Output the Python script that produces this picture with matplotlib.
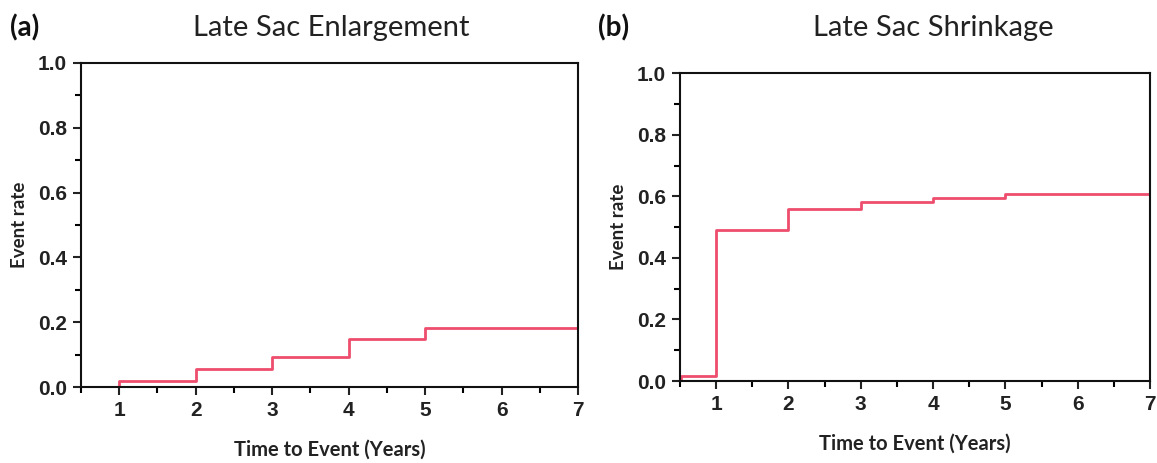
import matplotlib
matplotlib.use('Agg')
import matplotlib.pyplot as plt
from matplotlib.ticker import MultipleLocator

# Late sac enlargement (a)
enl_time = [1, 2, 3, 4, 5, 7]
enl_rate = [0.02, 0.056, 0.093, 0.148, 0.181, 0.181]

# Late sac shrinkage (b)
shr_time = [0.52, 1, 2, 3, 4, 5, 7]
shr_rate = [0.017, 0.49, 0.559, 0.581, 0.594, 0.607, 0.607]

panels = [
    ('(a)', 'Late Sac Enlargement', enl_time, enl_rate),
    ('(b)', 'Late Sac Shrinkage', shr_time, shr_rate),
]
x_ticks = [1, 2, 3, 4, 5, 6, 7]
y_ticks = [0.0, 0.2, 0.4, 0.6, 0.8, 1.0]

line_color = '#ee4d6e'
tick_font = ['Liberation Sans Narrow', 'Liberation Sans', 'DejaVu Sans']
text_font = ['Lato', 'DejaVu Sans']

fig = plt.figure(figsize=(11.57, 4.63), dpi=100)
rects = [[0.070, 0.164, 0.4296, 0.700],
         [0.5877, 0.177, 0.4063, 0.665]]
title_x = [0.286, 0.807]
tag_x = [0.009, 0.517]

for i, (rect, (tag, title, t, r)) in enumerate(zip(rects, panels)):
    ax = fig.add_axes(rect)
    # step curve starting from zero at the first event time
    xs = [t[0]] + list(t)
    ys = [0.0] + list(r)
    ax.step(xs, ys, where='post', color=line_color, lw=2.0)
    ax.set_xlim(0.5, 7)
    ax.set_ylim(0, 1)
    ax.set_xticks(x_ticks)
    ax.set_yticks(y_ticks)
    ax.set_yticklabels([f'{v:.1f}' for v in y_ticks])
    ax.xaxis.set_minor_locator(MultipleLocator(0.5))
    ax.yaxis.set_minor_locator(MultipleLocator(0.1))
    ax.tick_params(which='major', direction='out', length=6, width=1.5,
                   labelsize=15, pad=4, colors='#222222')
    ax.tick_params(which='minor', direction='out', length=4, width=1.5)
    for lab in ax.get_xticklabels() + ax.get_yticklabels():
        lab.set_family(tick_font)
        lab.set_fontweight('bold')
    for sp in ax.spines.values():
        sp.set_linewidth(1.5)
        sp.set_color('#111111')
    ax.set_ylabel('Event rate', family=text_font, fontsize=13.5,
                  fontweight='bold', color='#222222', labelpad=7)
    ax.set_xlabel('Time to Event (Years)', family=text_font, fontsize=14.5,
                  fontweight='bold', color='#222222', labelpad=14)

    fig.text(title_x[i], 0.94, title, family=text_font, fontsize=21,
             ha='center', va='center', color='#222222')
    fig.text(tag_x[i], 0.94, tag, family=text_font, fontsize=20,
             fontweight='bold', ha='left', va='center', color='#111111')

fig.savefig('out.png', dpi=100)
